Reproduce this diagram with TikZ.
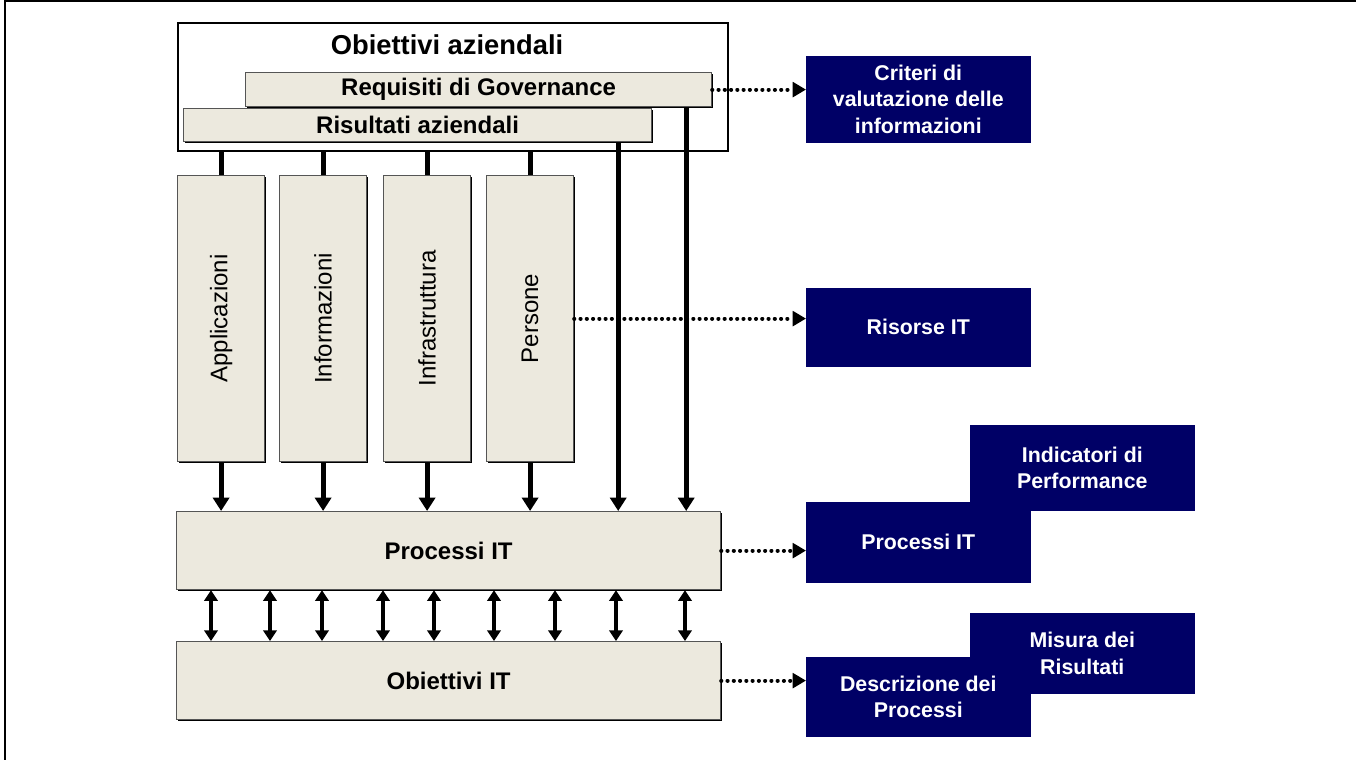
\documentclass[tikz,border=0pt]{standalone}
\usepackage{fontspec}
\setmainfont{Liberation Sans}
\usetikzlibrary{arrows.meta,positioning,calc,shadows}

\definecolor{beige}{RGB}{236,233,222}
\definecolor{navy}{RGB}{0,0,102}
\definecolor{edge}{RGB}{85,85,85}

\begin{document}
\begin{tikzpicture}[x=0.75pt,y=-0.75pt,
    box/.style={draw=edge,line width=0.9pt,fill=beige,inner sep=0pt,anchor=north west,
      general shadow={fill=black,shadow xshift=1.2pt,shadow yshift=-1.2pt},
      font=\fontsize{18}{21}\selectfont\bfseries},
    colbox/.style={box,minimum width=65.25pt,minimum height=214.5pt},
    vtext/.style={rotate=90,font=\fontsize{18}{21}\selectfont},
    bluebox/.style={draw=navy,fill=navy,text=white,inner sep=0pt,anchor=north west,
      minimum width=168pt,align=center,font=\fontsize{16}{20}\selectfont\bfseries},
    link/.style={line width=3.6pt},
    arr/.style={line width=3.6pt,-{Triangle[length=10pt,width=12pt]}},
    dbl/.style={line width=3.4pt,{Triangle[length=8pt,width=10pt]}-{Triangle[length=8pt,width=10pt]}},
    dots/.style={line width=3pt,line cap=round,dash pattern=on 0.1pt off 4.6pt,
      -{Triangle[length=10pt,width=11pt]}}]
  \useasboundingbox (0,0) rectangle (1356,760);
  % frame
  \draw[line width=1.5pt] (5,760) -- (5,1) -- (1356,1);

  % business goals
  \node[draw,line width=1.6pt,fill=white,anchor=north west,minimum width=412.5pt,
    minimum height=96pt] (azi) at (177,22) {};
  \node[font=\fontsize{20.5}{24}\selectfont\bfseries] (azititle) at (447,45) {Obiettivi aziendali};
  \node[box,minimum width=349.5pt,minimum height=25.5pt] (gov) at (245,72) {Requisiti di Governance};
  \node[box,minimum width=351pt,minimum height=24.75pt] (ris) at (183,108) {Risultati aziendali};

  % IT resources
  \node[colbox,label={[vtext]center:Applicazioni}] (app) at (177,175) {};
  \node[colbox,label={[vtext]center:Informazioni}] (inf) at (279,175) {};
  \node[colbox,label={[vtext]center:Infrastruttura}] (infra) at (383,175) {};
  \node[colbox,label={[vtext]center:Persone}] (pers) at (486,175) {};

  % IT processes and goals
  \node[box,minimum width=408pt,minimum height=58.5pt] (proc) at (176,511) {Processi IT};
  \node[box,minimum width=408pt,minimum height=58.5pt] (obit) at (176,641) {Obiettivi IT};

  % right column
  \node[bluebox,minimum height=64.5pt] (crit) at (806,56) {Criteri di\\valutazione delle\\informazioni};
  \node[bluebox,minimum height=58.5pt] (risit) at (806,288) {Risorse IT};
  \node[bluebox,minimum height=63.75pt] (indic) at (970,425) {Indicatori di\\Performance};
  \node[bluebox,minimum height=60pt] (procit) at (806,502) {Processi IT};
  \node[bluebox,minimum height=60pt] (misura) at (970,613) {Misura dei\\Risultati};
  \node[bluebox,minimum height=59.25pt] (descr) at (806,657) {Descrizione dei\\Processi};

  % connectors
  \foreach \n in {app,inf,infra,pers} {
    \draw[link] (\n.north |- azi.south) -- (\n.north);
    \draw[arr] (\n.south) -- (\n.south |- proc.north);
  }
  \draw[arr] ([xshift=-25.5pt]ris.south east) -- ([xshift=-25.5pt]ris.south east |- proc.north);
  \draw[arr] ([xshift=-19.5pt]gov.south east) -- ([xshift=-19.5pt]gov.south east |- proc.north);
  \foreach \dx in {35,94,146,207,258,318,379,440,509}
    \draw[dbl] ([xshift=\dx*0.75pt]proc.south west) -- ([xshift=\dx*0.75pt]obit.north west);

  % dotted links
  \draw[dots] (gov.east) -- (gov.east -| crit.west);
  \draw[dots] (pers.east) -- (pers.east -| risit.west);
  \draw[dots] (proc.east) -- (proc.east -| procit.west);
  \draw[dots] (obit.east) -- (obit.east -| descr.west);
\end{tikzpicture}
\end{document}
